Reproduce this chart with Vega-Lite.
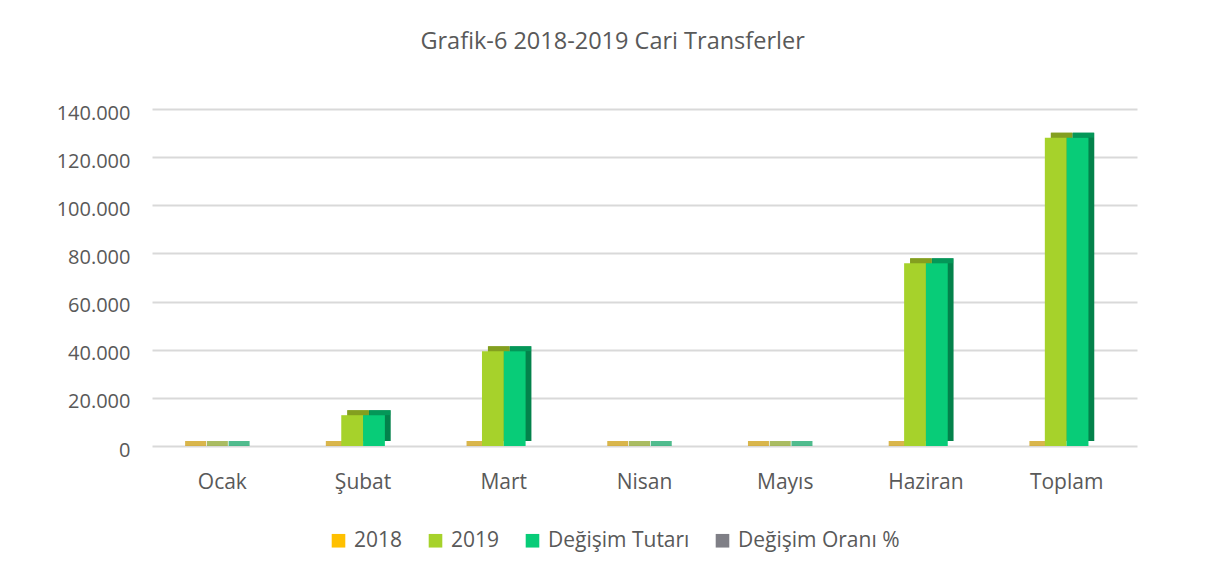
{
  "$schema": "https://vega.github.io/schema/vega-lite/v6.json",
  "width": 985,
  "height": 337,
  "padding": {"left": 56, "top": 29, "right": 10, "bottom": 10},
  "background": "white",
  "config": {
    "locale": {"number": {"decimal": ",", "thousands": ".", "grouping": [3], "currency": ["", ""]}},
    "view": {"stroke": null},
    "font": "Open Sans"
  },
  "title": {"text": "Grafik-6 2018-2019 Cari Transferler", "fontSize": 23.5, "fontWeight": "normal", "color": "#595959", "offset": 50, "frame": "bounds", "anchor": "middle", "dx": 16},
  "data": {"values": [
    {"ay": "Ocak", "seri": "2018", "deger": 0},
    {"ay": "Ocak", "seri": "2019", "deger": 0},
    {"ay": "Ocak", "seri": "Değişim Tutarı", "deger": 0},
    {"ay": "Ocak", "seri": "Değişim Oranı %", "deger": null},
    {"ay": "Şubat", "seri": "2018", "deger": 0},
    {"ay": "Şubat", "seri": "2019", "deger": 12800},
    {"ay": "Şubat", "seri": "Değişim Tutarı", "deger": 12800},
    {"ay": "Şubat", "seri": "Değişim Oranı %", "deger": null},
    {"ay": "Mart", "seri": "2018", "deger": 0},
    {"ay": "Mart", "seri": "2019", "deger": 39400},
    {"ay": "Mart", "seri": "Değişim Tutarı", "deger": 39400},
    {"ay": "Mart", "seri": "Değişim Oranı %", "deger": null},
    {"ay": "Nisan", "seri": "2018", "deger": 0},
    {"ay": "Nisan", "seri": "2019", "deger": 0},
    {"ay": "Nisan", "seri": "Değişim Tutarı", "deger": 0},
    {"ay": "Nisan", "seri": "Değişim Oranı %", "deger": null},
    {"ay": "Mayıs", "seri": "2018", "deger": 0},
    {"ay": "Mayıs", "seri": "2019", "deger": 0},
    {"ay": "Mayıs", "seri": "Değişim Tutarı", "deger": 0},
    {"ay": "Mayıs", "seri": "Değişim Oranı %", "deger": null},
    {"ay": "Haziran", "seri": "2018", "deger": 0},
    {"ay": "Haziran", "seri": "2019", "deger": 75900},
    {"ay": "Haziran", "seri": "Değişim Tutarı", "deger": 75900},
    {"ay": "Haziran", "seri": "Değişim Oranı %", "deger": null},
    {"ay": "Toplam", "seri": "2018", "deger": 0},
    {"ay": "Toplam", "seri": "2019", "deger": 128100},
    {"ay": "Toplam", "seri": "Değişim Tutarı", "deger": 128100},
    {"ay": "Toplam", "seri": "Değişim Oranı %", "deger": null}
  ]},
  "encoding": {
    "x": {
      "field": "ay", "type": "nominal",
      "sort": ["Ocak", "Şubat", "Mart", "Nisan", "Mayıs", "Haziran", "Toplam"],
      "scale": {"paddingInner": 0.38, "paddingOuter": 0.19},
      "axis": {"title": null, "labelAngle": 0, "labelFontSize": 21, "labelColor": "#595959", "domain": false, "ticks": false, "labelPadding": 25}
    },
    "y": {
      "field": "deger", "type": "quantitative",
      "scale": {"domain": [0, 140000]},
      "axis": {"title": null, "values": [0, 20000, 40000, 60000, 80000, 100000, 120000, 140000], "format": ",d", "labelFontSize": 20, "labelColor": "#595959", "domain": false, "ticks": false, "gridColor": "#D9D9D9", "gridWidth": 2, "labelPadding": 22, "labelOffset": 4}
    }
  },
  "layer": [
    {
      "encoding": {
        "xOffset": {
          "field": "seri", "type": "nominal",
          "sort": ["2018", "2019", "Değişim Tutarı", "Değişim Oranı %"],
          "scale": {"domain": ["2018", "2019", "Değişim Tutarı", "Değişim Oranı %"], "range": [6, 93], "paddingInner": 0, "paddingOuter": 0}
        }
      },
      "layer": [
        {
          "mark": {"type": "bar", "yOffset": -5},
          "encoding": {
            "color": {"field": "seri", "type": "nominal", "scale": {"domain": ["2018", "2019", "Değişim Tutarı", "Değişim Oranı %"], "range": ["#C99700", "#7E9F1F", "#03824B", "#5F5F66"]}, "legend": null}
          }
        },
        {
          "mark": {"type": "tick", "thickness": 5, "size": 21, "orient": "horizontal", "yOffset": -2.5},
          "encoding": {
            "color": {"field": "seri", "type": "nominal", "scale": {"domain": ["2018", "2019", "Değişim Tutarı", "Değişim Oranı %"], "range": ["#C99700", "#86A020", "#05A05E", "#5F5F66"]}, "legend": null}
          }
        }
      ],
      "resolve": {"scale": {"color": "independent"}}
    },
    {
      "mark": {"type": "bar"},
      "encoding": {
        "xOffset": {
          "field": "seri", "type": "nominal",
          "sort": ["2018", "2019", "Değişim Tutarı", "Değişim Oranı %"],
          "scale": {"domain": ["2018", "2019", "Değişim Tutarı", "Değişim Oranı %"], "paddingInner": 0, "paddingOuter": 0}
        },
        "color": {
          "field": "seri", "type": "nominal",
          "scale": {"domain": ["2018", "2019", "Değişim Tutarı", "Değişim Oranı %"], "range": ["#FFC000", "#A6D22B", "#08CC78", "#7F7F86"]},
          "legend": {"title": null, "orient": "none", "direction": "horizontal", "legendX": 176, "legendY": 421, "symbolType": "square", "symbolSize": 185, "symbolStrokeWidth": 0, "labelFontSize": 21, "labelLimit": 400, "labelColor": "#595959", "columnPadding": 22, "labelOffset": 5}
        }
      }
    }
  ],
  "resolve": {"scale": {"color": "independent", "xOffset": "independent"}}
}
